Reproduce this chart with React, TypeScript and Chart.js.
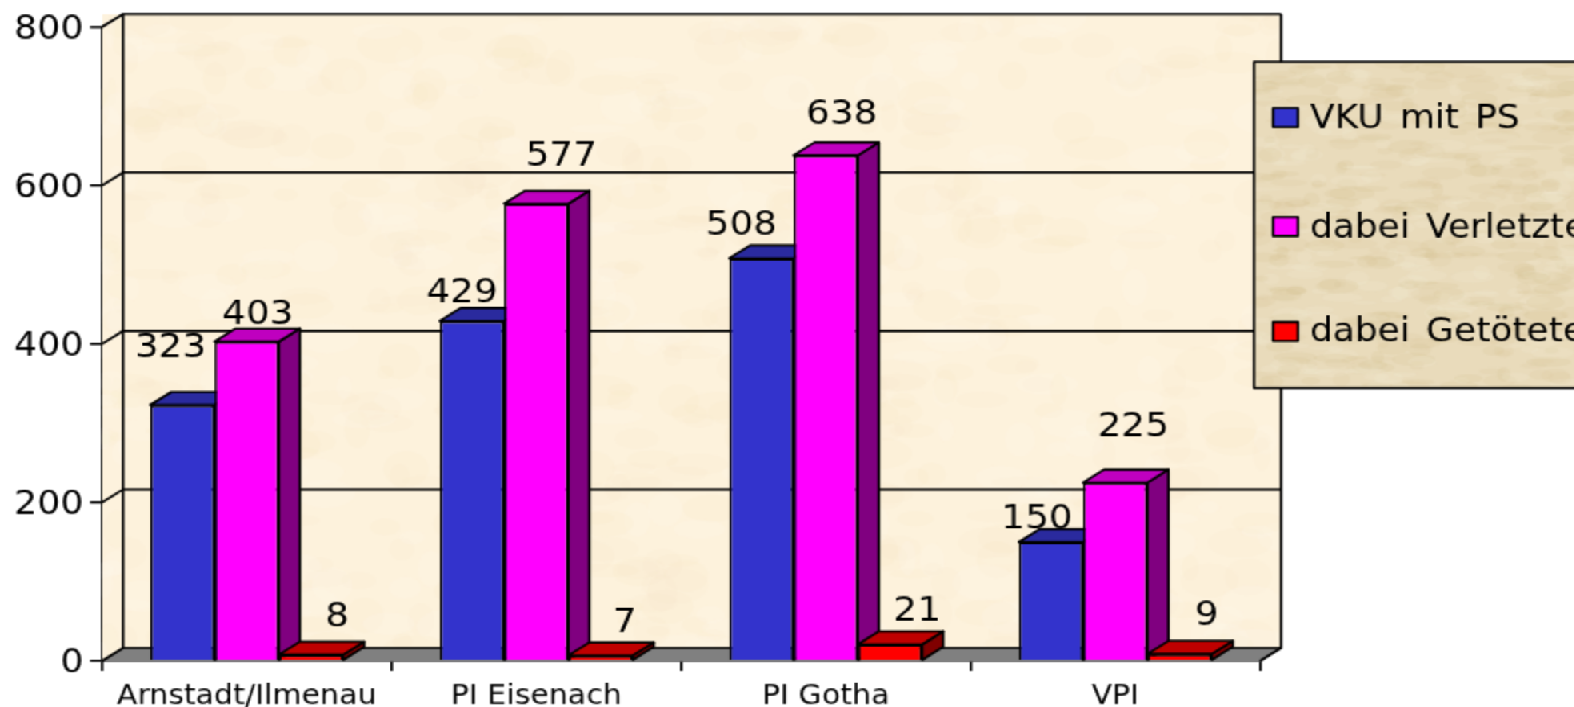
import React, { useEffect, useRef } from "react";
import { Chart, registerables } from "chart.js";

Chart.register(...registerables);

const categories = ["Arnstadt/Ilmenau", "PI Eisenach", "PI Gotha", "VPI"];
const vkuMitPs = [323, 429, 508, 150];
const dabeiVerletzte = [403, 577, 638, 225];
const dabeiGetoetete = [8, 7, 21, 9];
const seriesNames = ["VKU mit PS", "dabei Verletzte", "dabei Getötete"];
const yTicks = [0, 200, 400, 600, 800];

// The reference is a low-resolution picture stretched unevenly: draw small and scale up.
const SX = 1.6;
const SY = 1.44;
const W = 984;
const H = 491;
const px = (x: number) => x / SX;
const py = (y: number) => y / SY;

const DEPTH_X = px(21);
const DEPTH_Y = py(13);
const FRONT = ["#3333CC", "#FF00FF", "#FF0000"];
const TOPS = ["#2A2A9E", "#BF00BF", "#BF0000"];
const SIDES = ["#1E1E78", "#800080", "#800000"];
const LINE = 1.6;

// Hand placed data label shifts from the bar's top centre, in reference pixels.
const labelShift = [
  [[-12, -56], [-10, -28], [-20, -32], [-14, -22]],
  [[11, -26], [25, -47], [16, -41], [18, -55]],
  [[26, -37], [24, -32], [27, -33], [27, -37]],
];

function poly(ctx: CanvasRenderingContext2D, pts: number[][], fill?: string, stroke = true) {
  ctx.beginPath();
  pts.forEach((p, i) => (i ? ctx.lineTo(p[0], p[1]) : ctx.moveTo(p[0], p[1])));
  ctx.closePath();
  if (fill) {
    ctx.fillStyle = fill;
    ctx.fill();
  }
  if (stroke) ctx.stroke();
}

function mottle(
  ctx: CanvasRenderingContext2D,
  x: number, y: number, w: number, h: number,
  base: string, tints: string[], count: number, seed: number, rx: number, ry: number
) {
  ctx.save();
  ctx.beginPath();
  ctx.rect(x, y, w, h);
  ctx.clip();
  ctx.fillStyle = base;
  ctx.fillRect(x, y, w, h);
  let s = seed;
  const next = () => {
    s = (s * 16807) % 2147483647;
    return s / 2147483647;
  };
  for (let i = 0; i < count; i++) {
    ctx.fillStyle = tints[i % tints.length];
    ctx.beginPath();
    ctx.ellipse(x + next() * w, y + next() * h, rx * (0.3 + next()), ry * (0.3 + next()), 0, 0, Math.PI * 2);
    ctx.fill();
  }
  ctx.restore();
}

const chart3d = {
  id: "chart3d",
  beforeDatasetsDraw(chart: any) {
    const { ctx, chartArea: a, scales } = chart;
    const { left: l, right: r, top: t, bottom: b } = a;
    ctx.save();
    ctx.strokeStyle = "#000";
    ctx.lineWidth = LINE;
    const bx = l + DEPTH_X;
    const by = b - DEPTH_Y;
    const ty = t - py(13);
    mottle(ctx, l, ty, bx - l, b - ty, "#FDF2DD", ["rgba(250,232,200,0.15)", "rgba(255,250,238,0.2)"], 40, 77, 8, 10);
    mottle(
      ctx, bx, ty, r + DEPTH_X - bx, by - ty, "#FDF2DC",
      ["rgba(248,228,190,0.12)", "rgba(255,249,236,0.18)", "rgba(244,226,196,0.10)"],
      700, 4242, 16, 10
    );
    poly(ctx, [[l, b], [bx, by], [r + DEPTH_X, by], [r, b]], "#808080", false);
    yTicks.forEach((v) => {
      const y = scales.y.getPixelForValue(v);
      const yb = v === 800 ? ty : y - DEPTH_Y;
      ctx.beginPath();
      ctx.moveTo(l, y);
      ctx.lineTo(bx, yb);
      ctx.lineTo(r + DEPTH_X, yb);
      ctx.stroke();
    });
    ctx.beginPath();
    ctx.moveTo(bx, ty);
    ctx.lineTo(bx, by);
    ctx.moveTo(r + DEPTH_X, ty);
    ctx.lineTo(r + DEPTH_X, by);
    ctx.lineTo(r, b);
    ctx.stroke();
    ctx.restore();
  },
  // Bars are painted left to right below, so that each one covers its left neighbour's side.
  beforeDatasetDraw() {
    return false;
  },
  afterDatasetsDraw(chart: any) {
    const { ctx } = chart;
    ctx.save();
    ctx.strokeStyle = "#000";
    ctx.lineWidth = LINE;
    ctx.lineJoin = "round";
    chart.data.datasets.forEach((_: any, i: number) => {
      const meta = chart.getDatasetMeta(i);
      meta.data.forEach((bar: any) => {
        const x0 = bar.x - bar.width / 2;
        const x1 = bar.x + bar.width / 2;
        poly(ctx, [[x1, bar.y], [x1 + DEPTH_X, bar.y - DEPTH_Y], [x1 + DEPTH_X, bar.base - DEPTH_Y], [x1, bar.base]], SIDES[i]);
        poly(ctx, [[x0, bar.y], [x0 + DEPTH_X, bar.y - DEPTH_Y], [x1 + DEPTH_X, bar.y - DEPTH_Y], [x1, bar.y]], TOPS[i]);
      });
      meta.controller.draw();
    });
    ctx.font = '23.4px "DejaVu Sans"';
    ctx.fillStyle = "#000";
    ctx.textAlign = "center";
    ctx.textBaseline = "middle";
    chart.data.datasets.forEach((ds: any, i: number) => {
      chart.getDatasetMeta(i).data.forEach((bar: any, j: number) => {
        const [dx, dy] = labelShift[i][j];
        ctx.fillText(String(ds.data[j]), bar.x + px(dx), bar.y + py(dy));
      });
    });
    // legend panel
    const lx = px(1254);
    const ly = py(62);
    const lh = py(388 - 62);
    ctx.strokeStyle = "#000";
    ctx.lineWidth = LINE;
    mottle(
      ctx, lx, ly, W - lx, lh, "#E9DBBB",
      ["rgba(210,185,135,0.15)", "rgba(245,238,215,0.18)", "rgba(220,195,145,0.13)"],
      500, 991, 11, 4
    );
    ctx.beginPath();
    ctx.moveTo(W + 5, ly);
    ctx.lineTo(lx, ly);
    ctx.lineTo(lx, ly + lh);
    ctx.lineTo(W + 5, ly + lh);
    ctx.stroke();
    ctx.textAlign = "left";
    ctx.textBaseline = "alphabetic";
    ctx.font = '22.5px "DejaVu Sans"';
    (ctx as any).wordSpacing = "3px";
    const swatchY = [108, 217, 322];
    const textY = [128, 237, 341];
    chart.data.datasets.forEach((ds: any, i: number) => {
      ctx.fillStyle = FRONT[i];
      ctx.fillRect(px(1273), py(swatchY[i]), px(25), py(19));
      ctx.strokeRect(px(1273), py(swatchY[i]), px(25), py(19));
      ctx.fillStyle = "#000";
      ctx.fillText(ds.label, px(1310), py(textY[i]));
    });
    (ctx as any).wordSpacing = "0px";
    ctx.restore();
  },
};

export default function App() {
  const ref = useRef<HTMLCanvasElement | null>(null);

  useEffect(() => {
    document.body.style.margin = "0";
    const chart = new Chart(ref.current as HTMLCanvasElement, {
      type: "bar",
      data: {
        labels: categories,
        datasets: [vkuMitPs, dabeiVerletzte, dabeiGetoetete].map((data, i) => ({
          label: seriesNames[i],
          data,
          backgroundColor: FRONT[i],
          borderColor: "#000",
          borderWidth: LINE,
          clip: false,
          barPercentage: 1,
          categoryPercentage: 2 / 3,
        })),
      },
      plugins: [chart3d],
      options: {
        animation: false,
        responsive: false,
        devicePixelRatio: 1,
        layout: { padding: { left: 0, top: py(27), right: W - px(1260), bottom: 0 } },
        plugins: { legend: { display: false }, title: { display: false }, tooltip: { enabled: false } },
        scales: {
          x: {
            grid: { offset: true, drawOnChartArea: false, drawTicks: true, tickLength: py(10), color: "#000", lineWidth: LINE },
            border: { color: "#000", width: LINE },
            ticks: { color: "#000", padding: 6.5, maxRotation: 0, autoSkip: false, font: { family: "DejaVu Sans", size: 18.8 } },
            afterFit: (s: any) => {
              s.height = H - py(661);
            },
          },
          y: {
            min: 0,
            max: 800,
            grid: { drawOnChartArea: false, drawTicks: true, tickLength: px(12), color: "#000", lineWidth: LINE },
            border: { color: "#000", width: LINE },
            ticks: {
              color: "#000",
              padding: 4,
              stepSize: 200,
              labelOffset: 2.5,
              font: { family: "DejaVu Sans", size: 22.8 },
            },
            afterFit: (s: any) => {
              s.width = px(102);
            },
          },
        },
      },
    } as any);
    return () => chart.destroy();
  }, []);

  return (
    <div
      style={{
        position: "fixed",
        left: 0,
        top: 0,
        width: W,
        height: H,
        overflow: "hidden",
        transformOrigin: "0 0",
        transform: `scale(${SX}, ${SY})`,
        background: "#fff",
      }}
    >
      <canvas ref={ref} width={W} height={H} style={{ display: "block", width: W, height: H }} />
    </div>
  );
}
